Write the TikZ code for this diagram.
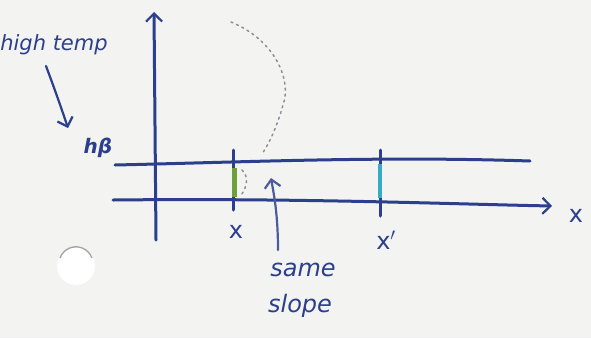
\documentclass[tikz,border=0pt]{standalone}
\usepackage{fontspec}
\setmainfont{DejaVu Sans}
\usetikzlibrary{arrows.meta}
\definecolor{paper}{HTML}{F3F3F1}
\definecolor{ink}{HTML}{2B3F8C}
\definecolor{pencil}{HTML}{8A8F98}
\definecolor{greenink}{HTML}{6FA03A}
\definecolor{cyanink}{HTML}{3AA8C8}
\tikzset{
  inkline/.style={draw=ink, line width=3pt, line cap=round},
  thinink/.style={draw=ink, line width=2.2pt, line cap=round},
  hand/.style={text=ink, font=\fontsize{20}{22}\selectfont\itshape, inner sep=0pt},
  dotcurve/.style={draw=pencil, line width=1.5pt, dash pattern=on 2pt off 4pt, line cap=round},
  vtip/.style={-{Straight Barb[length=8pt,width=16pt,line width=2.2pt]}}
}
\begin{document}
\begin{tikzpicture}[x=1pt,y=-1pt]
\fill[paper] (0,0) rectangle (591,338);
\useasboundingbox (0,0) rectangle (591,338);
% punch hole
\fill[white] (76,266) circle (19);
\draw[gray!70, line width=1.4pt] (60,258) arc (200:340:17);
% axes
\coordinate (yb) at (156,240);
\coordinate (yt) at (154,12);
\draw[inkline, vtip] (yb) -- (yt);
\coordinate (xl) at (113,200);
\coordinate (xr) at (552,206);
\draw[inkline, vtip] (xl) .. controls (300,198) and (450,204) .. (xr);
\node[hand, font=\fontsize{24}{26}\selectfont] (xlab) at (576,216) {x};
% upper line
\coordinate (ul) at (115,165);
\coordinate (ur) at (530,161);
\draw[inkline] (ul) .. controls (250,162) and (380,156) .. (ur);
% ticks
\coordinate (t1a) at (233,150);
\coordinate (t1b) at (233,210);
\coordinate (t2a) at (380,150);
\coordinate (t2b) at (380,216);
\draw[inkline] (t1a) -- (t1b);
\draw[inkline] (t2a) -- (t2b);
\draw[greenink, line width=5pt] (234.5,168) -- (234.5,197);
\draw[cyanink, line width=3.4pt] (380,164) -- (380,198);
\node[hand, font=\fontsize{24}{26}\selectfont] (xa) at (236,232) {x};
\node[hand, font=\fontsize{24}{26}\selectfont] (xb) at (386,240) {x$'$};
% dotted curve
\draw[dotcurve] (231,22) .. controls (275,40) and (292,80) .. (283,105)
   .. controls (276,130) and (268,145) .. (262,154);
\draw[dotcurve] (242,170) .. controls (249,176) and (247,188) .. (241,195);
% same slope
\node[hand, font=\fontsize{24}{26}\selectfont\itshape] (same) at (303,270) {same};
\node[hand, font=\fontsize{24}{26}\selectfont\itshape] (slope) at (300,306) {slope};
\coordinate (sa) at (271,178);
\coordinate (sb) at (278,250);
\draw[thinink, draw=ink!85, vtip] (sb) .. controls (278,215) and (274,195) .. (sa);
% high temp
\node[hand, font=\fontsize{21}{23}\selectfont\itshape] (hot) at (54,45) {high temp};
\coordinate (ha) at (46,66);
\coordinate (hb) at (68,128);
\draw[thinink, vtip] (ha) .. controls (55,90) and (62,110) .. (hb);
\node[hand, font=\fontsize{20}{22}\selectfont\bfseries\itshape] (hbeta) at (98,148) {hβ};
\end{tikzpicture}
\end{document}
